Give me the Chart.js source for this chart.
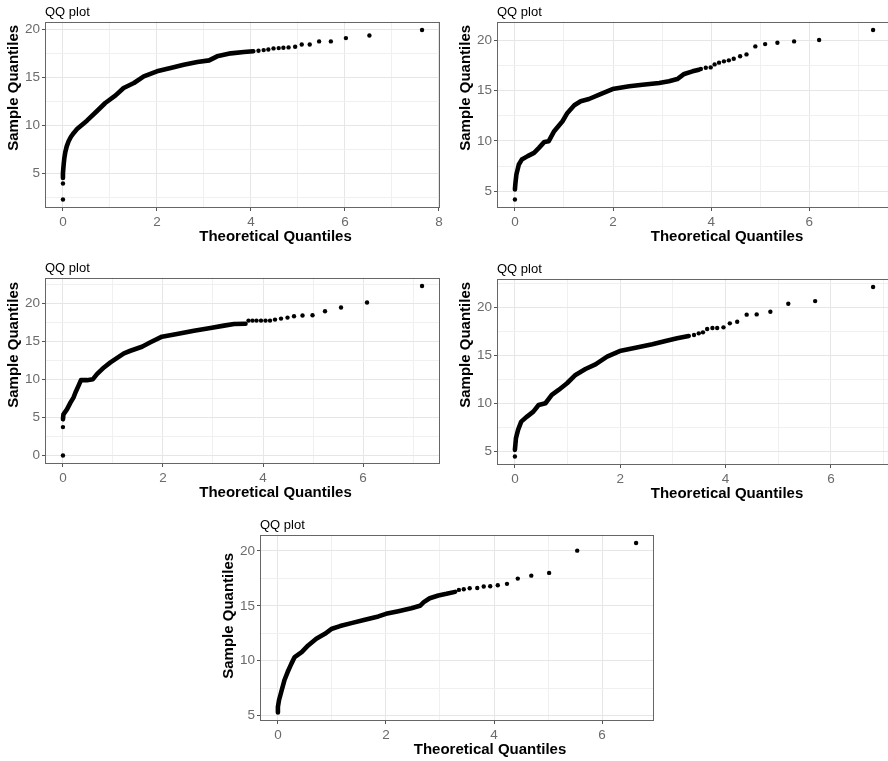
<!DOCTYPE html>
<html>
<head>
<meta charset="utf-8">
<script src="https://cdn.jsdelivr.net/npm/chart.js@4/dist/chart.umd.min.js"></script>
<style>
  html, body { margin: 0; padding: 0; background: #fff; overflow: hidden; }
  body { width: 888px; height: 761px; position: relative; }
  .panel { position: absolute; }
</style>
</head>
<body>
<script>
// Panel 1 (top left)
const p1BodyX = [0, 0, 0.015, 0.03, 0.05, 0.08, 0.12, 0.17, 0.23, 0.30, 0.37, 0.51, 0.72, 0.90, 1.12, 1.29, 1.51, 1.72, 2.0, 2.29, 2.57, 2.86, 3.11, 3.28, 3.57, 3.85, 4.05];
const p1BodyY = [4.5, 5.0, 5.9, 6.6, 7.2, 7.8, 8.33, 8.8, 9.2, 9.6, 9.9, 10.48, 11.46, 12.32, 13.12, 13.89, 14.41, 15.1, 15.63, 15.97, 16.31, 16.6, 16.77, 17.19, 17.5, 17.64, 17.72];
const p1TailX = [0, 0, 4.16, 4.27, 4.37, 4.48, 4.59, 4.69, 4.80, 4.94, 5.08, 5.25, 5.45, 5.70, 6.02, 6.52, 7.64];
const p1TailY = [2.25, 3.92, 17.77, 17.84, 17.9, 18.02, 18.05, 18.08, 18.12, 18.19, 18.43, 18.43, 18.75, 18.75, 19.09, 19.37, 19.93];

// Panel 2 (top right)
const p2BodyX = [0, 0.01, 0.03, 0.08, 0.14, 0.26, 0.39, 0.49, 0.60, 0.69, 0.80, 0.97, 1.07, 1.21, 1.34, 1.51, 1.72, 1.99, 2.33, 2.60, 2.94, 3.14, 3.31, 3.45, 3.62, 3.75];
const p2BodyY = [5.19, 5.8, 6.68, 7.67, 8.16, 8.5, 8.82, 9.32, 9.91, 9.98, 10.97, 11.96, 12.78, 13.54, 13.94, 14.16, 14.59, 15.15, 15.42, 15.58, 15.75, 15.92, 16.14, 16.64, 16.9, 17.06];
const p2TailX = [0, 3.79, 3.89, 3.99, 4.07, 4.16, 4.26, 4.36, 4.46, 4.59, 4.72, 4.90, 5.10, 5.35, 5.69, 6.20, 7.30];
const p2TailY = [4.2, 17.13, 17.26, 17.29, 17.59, 17.76, 17.89, 17.99, 18.15, 18.39, 18.58, 19.37, 19.6, 19.74, 19.87, 20.0, 20.99];

// Panel 3 (middle left)
const p3BodyX = [0, 0.01, 0.08, 0.15, 0.21, 0.25, 0.31, 0.36, 0.48, 0.60, 0.68, 0.82, 0.95, 1.22, 1.35, 1.58, 1.75, 1.98, 2.28, 2.62, 2.95, 3.22, 3.42, 3.65];
const p3BodyY = [4.75, 5.41, 6.06, 6.94, 7.6, 8.27, 9.14, 9.89, 9.89, 10.02, 10.68, 11.56, 12.22, 13.41, 13.75, 14.28, 14.86, 15.6, 15.95, 16.39, 16.74, 17.05, 17.27, 17.3];
const p3TailX = [0, 0, 3.71, 3.79, 3.87, 3.96, 4.05, 4.14, 4.24, 4.36, 4.49, 4.62, 4.79, 4.99, 5.24, 5.56, 6.08, 7.18];
const p3TailY = [0, 3.73, 17.71, 17.71, 17.71, 17.71, 17.71, 17.71, 17.84, 17.97, 18.1, 18.28, 18.37, 18.42, 18.94, 19.42, 20.08, 22.24];

// Panel 4 (middle right)
const p4BodyX = [0, 0.02, 0.06, 0.12, 0.23, 0.35, 0.45, 0.58, 0.70, 0.83, 0.99, 1.15, 1.34, 1.53, 1.75, 1.99, 2.29, 2.61, 2.86, 3.08, 3.30];
const p4BodyY = [5.18, 6.4, 7.26, 8.12, 8.64, 9.16, 9.85, 10.03, 10.89, 11.41, 12.11, 12.97, 13.59, 14.08, 14.87, 15.46, 15.8, 16.16, 16.5, 16.78, 17.02];
const p4TailX = [0, 3.40, 3.49, 3.57, 3.65, 3.75, 3.84, 3.96, 4.08, 4.22, 4.40, 4.59, 4.85, 5.19, 5.70, 6.80];
const p4TailY = [4.49, 17.12, 17.3, 17.4, 17.75, 17.85, 17.85, 17.92, 18.34, 18.51, 19.24, 19.27, 19.54, 20.37, 20.65, 22.11];

// Panel 5 (bottom)
const p5BodyX = [0, 0, 0.02, 0.07, 0.12, 0.18, 0.25, 0.31, 0.44, 0.56, 0.71, 0.87, 1.0, 1.15, 1.36, 1.61, 1.86, 2.0, 2.23, 2.47, 2.63, 2.70, 2.81, 2.97, 3.12, 3.28];
const p5BodyY = [5.27, 5.78, 6.39, 7.3, 8.21, 8.96, 9.73, 10.33, 10.78, 11.39, 12.0, 12.45, 12.91, 13.15, 13.42, 13.73, 14.03, 14.27, 14.51, 14.78, 15.0, 15.33, 15.69, 15.94, 16.09, 16.27];
const p5TailX = [3.35, 3.44, 3.55, 3.69, 3.81, 3.93, 4.07, 4.24, 4.44, 4.69, 5.02, 5.54, 6.63];
const p5TailY = [16.45, 16.51, 16.6, 16.63, 16.76, 16.78, 16.87, 17.0, 17.48, 17.75, 18.0, 20.03, 20.72];

const FONT = "'Liberation Sans', Arial, Helvetica, sans-serif";

function toPoints(xs, ys) {
  return xs.map((x, i) => ({x: x, y: ys[i]}));
}

// ggplot style 5% expansion around the data
function expandRange(values) {
  let lo = Math.min(...values);
  let hi = Math.max(...values);
  let pad = (hi - lo) * 0.05;
  return [lo - pad, hi + pad];
}

function isMajor(value, step) {
  return Math.abs(value / step - Math.round(value / step)) < 1e-6;
}

const panelBorder = {
  id: 'panelBorder',
  afterDatasetsDraw(chart) {
    const a = chart.chartArea;
    const ctx = chart.ctx;
    ctx.save();
    ctx.strokeStyle = '#666666';
    ctx.lineWidth = 1;
    ctx.strokeRect(Math.round(a.left) + 0.5, Math.round(a.top) + 0.5,
        Math.round(a.right - a.left) - 1, Math.round(a.bottom - a.top) - 1);
    ctx.restore();
  }
};

// axis titles sit off-centre in the original figure, so draw them by hand
const axisTitles = {
  id: 'axisTitles',
  afterDraw(chart, args, opts) {
    const a = chart.chartArea;
    const ctx = chart.ctx;
    ctx.save();
    ctx.fillStyle = '#000';
    ctx.font = 'bold 15px ' + FONT;
    ctx.textAlign = 'center';
    ctx.textBaseline = 'middle';
    ctx.fillText(opts.xText, (a.left + a.right) / 2 + opts.xShift, a.bottom + 29);
    ctx.translate(a.left - 31, (a.top + a.bottom) / 2 + opts.yShift);
    ctx.rotate(-Math.PI / 2);
    ctx.fillText(opts.yText, 0, 0);
    ctx.restore();
  }
};

function axisOptions(range, major, isX) {
  return {
    type: 'linear',
    min: range[0],
    max: range[1],
    border: { display: false },
    grid: {
      color: c => isMajor(c.tick.value, major) ? '#e6e6e6' : '#f0f0f0',
      lineWidth: 1,
      drawTicks: true,
      tickLength: 3,
      tickColor: c => isMajor(c.tick.value, major) ? '#555555' : 'rgba(0,0,0,0)',
      tickWidth: 1
    },
    ticks: {
      stepSize: major / 2,
      includeBounds: false,
      autoSkip: false,
      maxRotation: 0,
      padding: isX ? 3 : 2,
      color: '#6b6b6b',
      font: { family: FONT, size: 13.5 },
      callback: v => isMajor(v, major) ? String(v) : ''
    },
    title: { display: false },
    afterFit(scale) {
      if (isX) {
        scale.height = 42;
        scale.paddingLeft = 0;
        scale.paddingRight = 0;
      } else {
        scale.width = 45;
        scale.paddingTop = 0;
        scale.paddingBottom = 0;
      }
    }
  };
}

function createPanel(panel) {
  let canvas = document.createElement('canvas');
  canvas.className = 'panel';
  canvas.width = panel.width;
  canvas.height = 250;
  canvas.style.left = panel.left + 'px';
  canvas.style.top = panel.top + 'px';
  canvas.style.width = panel.width + 'px';
  canvas.style.height = '250px';
  document.body.appendChild(canvas);

  let xRange = expandRange(panel.bodyX.concat(panel.tailX));
  let yRange = expandRange(panel.bodyY.concat(panel.tailY));

  new Chart(canvas, {
    type: 'scatter',
    data: {
      datasets: [{
        data: toPoints(panel.bodyX, panel.bodyY),
        showLine: true,
        borderColor: '#000',
        borderWidth: 4.6,
        borderJoinStyle: 'round',
        borderCapStyle: 'round',
        tension: 0,
        pointRadius: 0
      }, {
        data: toPoints(panel.tailX, panel.tailY),
        showLine: false,
        pointRadius: 2.2,
        pointBorderWidth: 0,
        backgroundColor: '#000',
        borderColor: '#000'
      }]
    },
    options: {
      responsive: false,
      animation: false,
      layout: { padding: { left: 0, right: panel.rightPad, top: 0, bottom: 0 } },
      plugins: {
        legend: { display: false },
        tooltip: { enabled: false },
        title: {
          display: true,
          text: 'QQ plot',
          align: 'start',
          fullSize: false,
          color: '#000',
          font: { family: FONT, size: 13, weight: 'normal' },
          padding: { top: 5, bottom: 1 }
        },
        axisTitles: {
          xText: 'Theoretical Quantiles',
          yText: 'Sample Quantiles',
          xShift: 33,
          yShift: panel.yTitleShift
        }
      },
      scales: {
        x: axisOptions(xRange, 2, true),
        y: axisOptions(yRange, 5, false)
      }
    },
    plugins: [panelBorder, axisTitles]
  });
}

createPanel({ left: 0, top: 0, width: 444, rightPad: 4, yTitleShift: -27, bodyX: p1BodyX, bodyY: p1BodyY, tailX: p1TailX, tailY: p1TailY });
createPanel({ left: 452, top: 0, width: 446, rightPad: 7, yTitleShift: -27, bodyX: p2BodyX, bodyY: p2BodyY, tailX: p2TailX, tailY: p2TailY });
createPanel({ left: 0, top: 256, width: 444, rightPad: 4, yTitleShift: -26, bodyX: p3BodyX, bodyY: p3BodyY, tailX: p3TailX, tailY: p3TailY });
createPanel({ left: 452, top: 257, width: 446, rightPad: 7, yTitleShift: -27, bodyX: p4BodyX, bodyY: p4BodyY, tailX: p4TailX, tailY: p4TailY });
createPanel({ left: 215, top: 513, width: 443, rightPad: 4, yTitleShift: -12, bodyX: p5BodyX, bodyY: p5BodyY, tailX: p5TailX, tailY: p5TailY });
</script>
</body>
</html>
